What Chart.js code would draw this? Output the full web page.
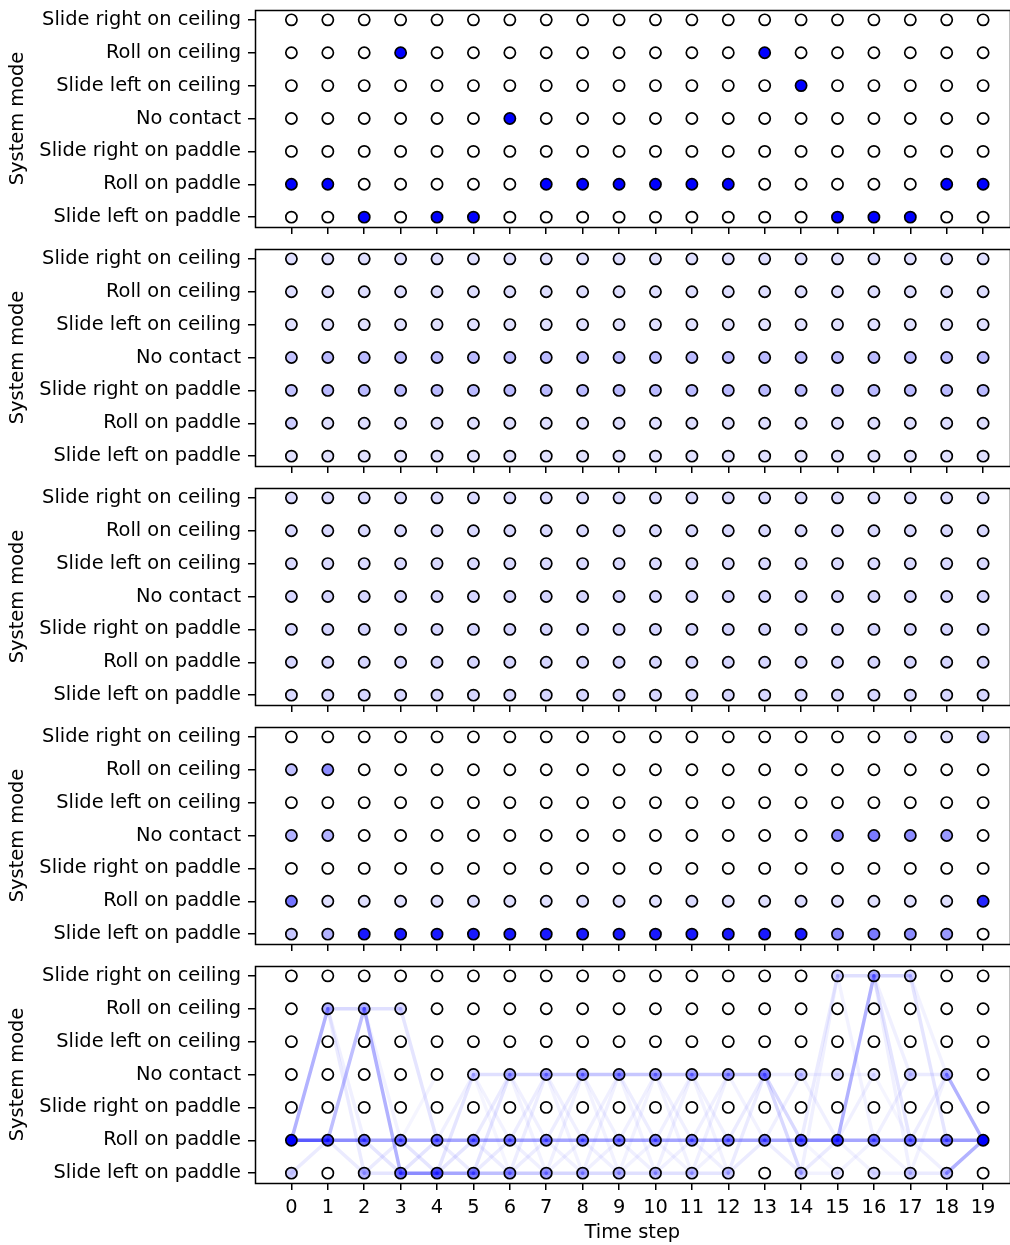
<!DOCTYPE html>
<html><head><meta charset="utf-8">
<script src="https://cdn.jsdelivr.net/npm/chart.js@4"></script>
<style>
html,body{margin:0;padding:0;background:#fff;overflow:hidden;width:1010px;height:1245px;}
canvas{position:absolute;left:0;}
</style></head>
<body>
<script>
// y value 0 = bottom row
const modeLabels = ["Slide left on paddle","Roll on paddle","Slide right on paddle","No contact","Slide left on ceiling","Roll on ceiling","Slide right on ceiling"];
const timeSteps = [0,1,2,3,4,5,6,7,8,9,10,11,12,13,14,15,16,17,18,19];
const xTitle = "Time step";
const yTitle = "System mode";

// Panel 1: true mode at each time step
const trueModes = [1,1,0,5,0,0,3,1,1,1,1,1,1,5,4,0,0,0,1,1];

// Panel 2: rows ordered by mode index (0 = Slide left on paddle ... 6 = Slide right on ceiling)
const panel2 = [
  [0.12,0.12,0.12,0.12,0.12,0.12,0.12,0.12,0.12,0.12,0.12,0.12,0.12,0.12,0.12,0.12,0.12,0.12,0.12,0.12],
  [0.2,0.13,0.13,0.13,0.13,0.13,0.13,0.13,0.13,0.13,0.13,0.13,0.13,0.13,0.13,0.13,0.13,0.13,0.13,0.13],
  [0.24,0.27,0.27,0.27,0.27,0.27,0.27,0.27,0.27,0.27,0.27,0.27,0.27,0.27,0.27,0.27,0.27,0.27,0.27,0.27],
  [0.24,0.27,0.27,0.27,0.27,0.27,0.27,0.27,0.27,0.27,0.27,0.27,0.27,0.27,0.27,0.27,0.27,0.27,0.27,0.27],
  [0.12,0.12,0.12,0.12,0.12,0.12,0.12,0.12,0.12,0.12,0.12,0.12,0.12,0.12,0.12,0.12,0.12,0.12,0.12,0.12],
  [0.13,0.13,0.13,0.13,0.13,0.13,0.13,0.13,0.13,0.13,0.13,0.13,0.13,0.13,0.13,0.13,0.13,0.13,0.13,0.13],
  [0.13,0.13,0.13,0.13,0.13,0.13,0.13,0.13,0.13,0.13,0.13,0.13,0.13,0.13,0.13,0.13,0.13,0.13,0.13,0.13]
];

// Panel 3
const panel3 = [
  [0.15,0.16,0.16,0.16,0.16,0.16,0.16,0.16,0.16,0.16,0.16,0.16,0.16,0.16,0.16,0.16,0.16,0.16,0.16,0.16],
  [0.16,0.16,0.16,0.16,0.16,0.16,0.16,0.16,0.16,0.16,0.16,0.16,0.16,0.16,0.16,0.16,0.16,0.16,0.16,0.16],
  [0.16,0.17,0.17,0.17,0.17,0.17,0.17,0.17,0.17,0.17,0.17,0.17,0.17,0.17,0.17,0.17,0.17,0.17,0.17,0.17],
  [0.16,0.17,0.17,0.17,0.17,0.17,0.17,0.17,0.17,0.17,0.17,0.17,0.17,0.17,0.17,0.17,0.17,0.17,0.17,0.17],
  [0.15,0.15,0.15,0.15,0.15,0.15,0.15,0.15,0.15,0.15,0.15,0.15,0.15,0.15,0.15,0.15,0.15,0.15,0.15,0.15],
  [0.15,0.15,0.15,0.15,0.15,0.15,0.15,0.15,0.15,0.15,0.15,0.15,0.15,0.15,0.15,0.15,0.15,0.15,0.15,0.15],
  [0.15,0.15,0.15,0.15,0.15,0.15,0.15,0.15,0.15,0.15,0.15,0.15,0.15,0.15,0.15,0.15,0.15,0.15,0.15,0.15]
];

// Panel 4
const panel4 = [
  [0.22,0.3,0.9,0.9,0.9,0.9,0.9,0.9,0.9,0.9,0.9,0.9,0.9,0.9,0.9,0.48,0.52,0.45,0.4,0],
  [0.55,0.12,0.12,0.12,0.12,0.14,0.12,0.12,0.14,0.12,0.12,0.14,0.12,0.12,0.14,0.12,0.12,0.12,0.12,0.85],
  [0,0,0,0,0,0,0,0,0,0,0,0,0,0,0,0,0,0,0,0],
  [0.3,0.3,0,0,0,0,0,0,0,0,0,0,0,0,0,0.48,0.52,0.45,0.4,0],
  [0,0,0,0,0,0,0,0,0,0,0,0,0,0,0,0,0,0,0,0],
  [0.25,0.45,0,0,0,0,0,0,0,0,0,0,0,0,0,0,0,0,0,0],
  [0,0,0,0,0,0,0,0,0,0,0,0,0,0,0,0,0,0.1,0.12,0.22]
];

// Panel 5: marginals
const panel5 = [
  [0.2,0,0.3,0.55,0.65,0.5,0.4,0.35,0.3,0.25,0.25,0.22,0.2,0,0.2,0.1,0.15,0.2,0.25,0],
  [1.0,0.7,0.55,0.5,0.5,0.5,0.45,0.45,0.45,0.45,0.45,0.45,0.45,0.5,0.65,0.75,0.5,0.5,0.5,1.0],
  [0,0,0,0,0,0,0,0,0,0,0,0,0,0,0,0,0,0,0,0],
  [0,0,0,0,0,0.15,0.3,0.35,0.38,0.4,0.35,0.35,0.35,0.5,0.2,0.15,0.1,0.22,0.32,0],
  [0,0,0,0,0,0,0,0,0,0,0,0,0,0,0,0,0,0,0,0],
  [0,0.3,0.3,0.15,0,0,0,0,0,0,0,0,0,0,0,0,0,0,0,0],
  [0,0,0,0,0,0,0,0,0,0,0,0,0,0,0,0.15,0.35,0.18,0,0]
];

// Panel 5: transitions [time t, mode at t, mode at t+1, weight]
const transitions = [
  [0,1,1,0.65],[0,1,5,0.3],[0,0,1,0.08],
  [1,1,1,0.45],[1,1,5,0.25],[1,5,5,0.15],[1,5,0,0.08],[1,1,0,0.08],[1,5,1,0.06],
  [2,1,1,0.35],[2,5,0,0.3],[2,5,5,0.12],[2,1,0,0.1],[2,0,1,0.08],[2,0,0,0.1],[2,5,1,0.05],
  [3,1,1,0.35],[3,0,0,0.45],[3,5,1,0.1],[3,1,0,0.1],[3,0,1,0.1],[3,1,3,0.04],
  [4,1,1,0.35],[4,0,0,0.35],[4,0,3,0.1],[4,1,3,0.06],[4,1,0,0.08],[4,0,1,0.1],
  [5,1,1,0.35],[5,0,0,0.25],[5,3,3,0.12],[5,0,3,0.1],[5,1,3,0.08],[5,3,1,0.05],[5,1,0,0.07],[5,0,1,0.08],[5,3,0,0.04],
  [6,1,1,0.35],[6,0,0,0.2],[6,3,3,0.18],[6,0,3,0.07],[6,1,3,0.07],[6,3,1,0.06],[6,1,0,0.06],[6,0,1,0.07],[6,3,0,0.05],
  [7,1,1,0.35],[7,0,0,0.16],[7,3,3,0.2],[7,0,3,0.06],[7,1,3,0.07],[7,3,1,0.06],[7,1,0,0.06],[7,0,1,0.06],[7,3,0,0.05],
  [8,1,1,0.35],[8,0,0,0.14],[8,3,3,0.22],[8,0,3,0.06],[8,1,3,0.06],[8,3,1,0.06],[8,1,0,0.06],[8,0,1,0.06],[8,3,0,0.05],
  [9,1,1,0.35],[9,0,0,0.12],[9,3,3,0.22],[9,0,3,0.05],[9,1,3,0.06],[9,3,1,0.07],[9,1,0,0.06],[9,0,1,0.05],[9,3,0,0.05],
  [10,1,1,0.35],[10,0,0,0.12],[10,3,3,0.2],[10,0,3,0.06],[10,1,3,0.06],[10,3,1,0.06],[10,1,0,0.05],[10,0,1,0.06],[10,3,0,0.05],
  [11,1,1,0.35],[11,0,0,0.1],[11,3,3,0.2],[11,0,3,0.06],[11,1,3,0.06],[11,3,1,0.06],[11,1,0,0.06],[11,0,1,0.05],[11,3,0,0.05],
  [12,1,1,0.35],[12,3,3,0.2],[12,0,3,0.08],[12,0,1,0.08],[12,1,3,0.08],[12,3,1,0.05],
  [13,1,1,0.35],[13,3,0,0.15],[13,3,1,0.15],[13,3,3,0.08],[13,1,0,0.07],[13,1,3,0.06],
  [14,1,1,0.45],[14,1,6,0.08],[14,0,6,0.06],[14,3,3,0.06],[14,0,1,0.08],[14,3,1,0.06],[14,0,0,0.05],[14,1,0,0.04],
  [15,1,1,0.35],[15,1,6,0.3],[15,6,6,0.12],[15,3,3,0.05],[15,0,1,0.05],[15,1,3,0.06],[15,6,1,0.05],[15,1,0,0.05],
  [16,1,1,0.3],[16,6,6,0.15],[16,6,1,0.1],[16,6,3,0.06],[16,6,0,0.06],[16,1,3,0.06],[16,3,1,0.04],[16,0,0,0.05],[16,1,0,0.05],
  [17,1,1,0.35],[17,6,1,0.1],[17,3,3,0.08],[17,0,0,0.08],[17,1,3,0.07],[17,0,3,0.05],[17,1,0,0.06],[17,6,3,0.05],
  [18,1,1,0.4],[18,3,1,0.3],[18,0,1,0.3]
];

Chart.defaults.font.family = 'DejaVu Sans';
Chart.defaults.font.size = 19.4;
Chart.defaults.color = '#000';
const PANEL_H = 239;

function gridFromTrue(modes) {
  return modeLabels.map((_, m) => modes.map(v => v === m ? 1 : 0));
}

const boxPlugin = {
  id: 'box',
  afterDraw(chart) {
    const a = chart.chartArea, ctx = chart.ctx;
    ctx.save();
    ctx.strokeStyle = '#000';
    ctx.lineWidth = 1.5;
    ctx.strokeRect(Math.round(a.left) + 0.5, Math.round(a.top) + 0.5, Math.round(a.right - a.left), Math.round(a.bottom - a.top));
    ctx.restore();
  }
};

function makePanel(idx, probs, trans, last) {
  const canvas = document.createElement('canvas');
  const h = last ? 1245 - idx * PANEL_H : PANEL_H;
  const w = 1017; // plot frame runs past the right edge of the page, as in the original crop
  canvas.width = w; canvas.height = h;
  canvas.style.top = (idx * PANEL_H) + 'px';
  canvas.style.width = w + 'px'; canvas.style.height = h + 'px';
  document.body.appendChild(canvas);

  const pts = [], colors = [];
  probs.forEach((row, m) => row.forEach((p, t) => {
    pts.push({x: timeSteps[t], y: m});
    colors.push(p > 0 ? `rgba(0,0,255,${p})` : 'rgba(255,255,255,1)');
  }));
  const datasets = [{
    type: 'scatter', data: pts, order: 0,
    pointRadius: 5.6, pointHoverRadius: 5.6, pointBorderWidth: 1.7,
    pointBackgroundColor: colors, pointBorderColor: '#000', showLine: false
  }];
  (trans || []).forEach(([t, a, b, wt]) => {
    datasets.push({
      type: 'line', order: 1,
      data: [{x: timeSteps[t], y: a}, {x: timeSteps[t + 1], y: b}],
      borderColor: `rgba(0,0,255,${wt})`, borderWidth: 3.5, pointRadius: 0, tension: 0,
      borderCapStyle: 'round'
    });
  });

  new Chart(canvas, {
    type: 'scatter',
    data: {datasets},
    plugins: [boxPlugin],
    options: {
      responsive: false, animation: false, devicePixelRatio: 1,
      layout: {padding: {left: 2, top: 10, right: 0, bottom: 0}},
      plugins: {legend: {display: false}, tooltip: {enabled: false}},
      events: [],
      scales: {
        x: {
          type: 'linear', min: -1, max: 19.73,
          afterBuildTicks: s => { s.ticks = timeSteps.map(v => ({value: v})); },
          afterFit: s => { s.height = last ? 62 : 12; s.paddingLeft = 0; s.paddingRight = 0; },
          border: {display: false},
          grid: {drawOnChartArea: false, drawTicks: true, tickLength: 7, color: '#000', lineWidth: 1.5},
          ticks: {display: last, color: '#000', padding: 6, maxRotation: 0, autoSkip: false,
                  callback: v => String(v)},
          title: {display: last, text: xTitle, color: '#000', padding: {top: 2, bottom: 0}}
        },
        y: {
          type: 'linear', min: -0.3, max: 6.3,
          afterBuildTicks: s => { s.ticks = modeLabels.map((_, i) => ({value: i})); },
          afterFit: s => { s.width = 253; s.paddingTop = 0; s.paddingBottom = 0; },
          border: {display: false},
          grid: {drawOnChartArea: false, drawTicks: true, tickLength: 7, color: '#000', lineWidth: 1.5},
          ticks: {color: '#000', padding: 7, autoSkip: false, callback: v => modeLabels[v]},
          title: {display: true, text: yTitle, color: '#000', padding: {top: 4, bottom: 0}}
        }
      }
    }
  });
}

makePanel(0, gridFromTrue(trueModes), null, false);
makePanel(1, panel2, null, false);
makePanel(2, panel3, null, false);
makePanel(3, panel4, null, false);
makePanel(4, panel5, transitions, true);
</script>
</body></html>
